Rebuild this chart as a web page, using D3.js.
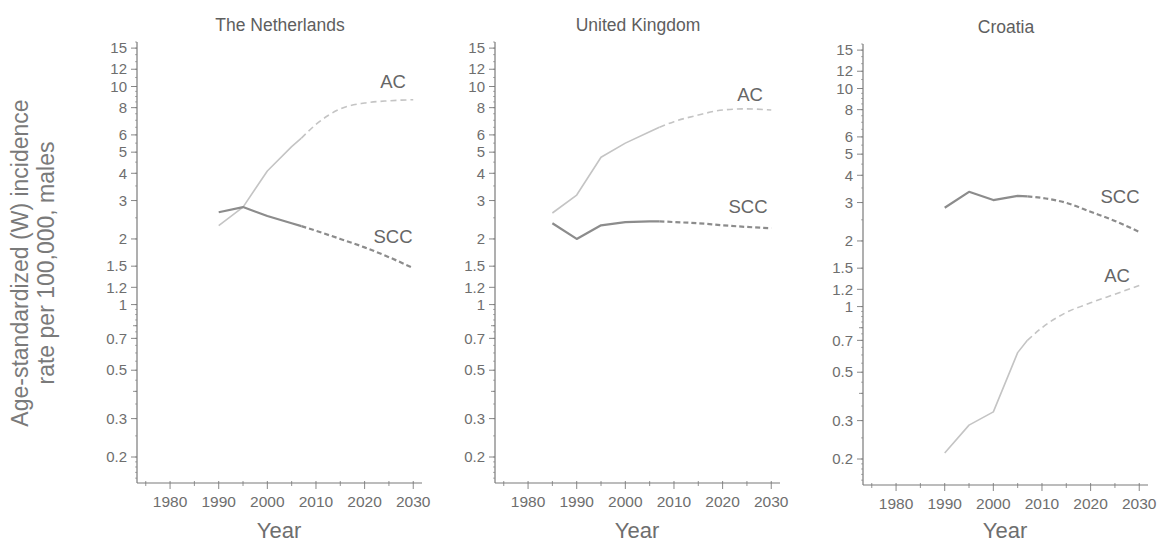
<!DOCTYPE html>
<html><head><meta charset="utf-8">
<script src="https://cdn.jsdelivr.net/npm/d3@7"></script>
<style>
body{margin:0;background:#fff;}
text{font-family:"Liberation Sans",Arial,sans-serif;}
</style></head>
<body><svg id="c" width="1162" height="544"></svg>
<script>
// ---- data ----
const countries = ["The Netherlands", "United Kingdom", "Croatia"];
const lastObservedYear = 2007;

const nlYears = [1990, 1995, 2000, 2005, 2007, 2010, 2015, 2020, 2025, 2030];
const nlAC    = [2.3, 2.8, 4.1, 5.3, 5.8, 6.7, 7.9, 8.4, 8.6, 8.7];
const nlSCC   = [2.65, 2.8, 2.55, 2.36, 2.29, 2.18, 2.0, 1.83, 1.65, 1.47];

const ukYears = [1985, 1990, 1995, 2000, 2005, 2007, 2010, 2015, 2020, 2025, 2030];
const ukAC    = [2.63, 3.18, 4.74, 5.5, 6.2, 6.5, 6.9, 7.4, 7.8, 7.9, 7.8];
const ukSCC   = [2.36, 2.0, 2.31, 2.39, 2.41, 2.41, 2.39, 2.36, 2.31, 2.27, 2.24];

const hrYears = [1990, 1995, 2000, 2005, 2007, 2010, 2015, 2020, 2025, 2030];
const hrAC    = [0.213, 0.286, 0.329, 0.615, 0.7, 0.8, 0.94, 1.04, 1.14, 1.25];
const hrSCC   = [2.84, 3.36, 3.08, 3.22, 3.2, 3.15, 2.99, 2.72, 2.47, 2.2];

const xTickLabels = [1980, 1990, 2000, 2010, 2020, 2030];
const xMinorTicks = [1975, 1985, 1995, 2005, 2015, 2025];
const yTickLabels = [0.2, 0.3, 0.5, 0.7, 1, 1.2, 1.5, 2, 3, 4, 5, 6, 8, 10, 12, 15];
const yMidTicks   = [0.4, 0.8];
const seriesNames = ["AC", "SCC"];

// ---- layout ----
const panels = [
  {name: countries[0], years: nlYears, AC: nlAC, SCC: nlSCC, left: 137, dy: 0,
   labels: {AC: [393, 82], SCC: [393, 237]}},
  {name: countries[1], years: ukYears, AC: ukAC, SCC: ukSCC, left: 495, dy: 0,
   labels: {AC: [750, 95], SCC: [748, 207]}},
  {name: countries[2], years: hrYears, AC: hrAC, SCC: hrSCC, left: 863, dy: 2,
   labels: {AC: [1117, 276], SCC: [1120, 197]}}
];
const W = 285;
const textCol = "#6e6e6e";
const axisCol = "#7a7a7a";
const style = {
  AC:  {color: "#c4c4c4", width: 1.6, dash: "6,4"},
  SCC: {color: "#8c8c8c", width: 2.2, dash: "5,3"}
};

const svg = d3.select("#c");

// minor y ticks (fine)
const fine = [];
for (let v = 0.16; v < 0.2; v += 0.01) fine.push(+v.toFixed(2));
for (let v = 0.2; v < 1; v += 0.05) fine.push(+v.toFixed(2));
for (let v = 1; v < 10; v += 0.5) fine.push(+v.toFixed(1));
for (let v = 10; v <= 16; v += 1) fine.push(v);

panels.forEach(p => {
  const g = svg.append("g");
  const x = d3.scaleLinear().domain([1973.2, 2031.8]).range([p.left, p.left + W]);
  const y = d3.scaleLog().domain([0.152, 16]).range([483 + p.dy, 42 + p.dy]);
  const y0 = y.range()[0], y1 = y.range()[1];

  // y axis
  g.append("line").attr("x1", p.left).attr("x2", p.left).attr("y1", y1).attr("y2", y0)
    .attr("stroke", axisCol).attr("stroke-width", 1.2);
  g.selectAll(".yf").data(fine).join("line")
    .attr("x1", p.left - 2).attr("x2", p.left).attr("y1", d => y(d)).attr("y2", d => y(d))
    .attr("stroke", axisCol).attr("stroke-width", 0.6);
  g.selectAll(".ym").data(yMidTicks).join("line")
    .attr("x1", p.left - 4).attr("x2", p.left).attr("y1", d => y(d)).attr("y2", d => y(d))
    .attr("stroke", axisCol).attr("stroke-width", 0.8);
  g.selectAll(".yt").data(yTickLabels).join("line")
    .attr("x1", p.left - 6).attr("x2", p.left).attr("y1", d => y(d)).attr("y2", d => y(d))
    .attr("stroke", axisCol).attr("stroke-width", 0.9);
  g.selectAll(".yl").data(yTickLabels).join("text")
    .attr("x", p.left - 10).attr("y", d => y(d)).attr("dy", "0.35em")
    .attr("text-anchor", "end").attr("font-size", 15).attr("fill", textCol)
    .text(d => d);

  // x axis
  g.append("line").attr("x1", p.left).attr("x2", p.left + W).attr("y1", y0).attr("y2", y0)
    .attr("stroke", axisCol).attr("stroke-width", 1.2);
  g.selectAll(".xm").data(xMinorTicks).join("line")
    .attr("x1", d => x(d)).attr("x2", d => x(d)).attr("y1", y0 - 2).attr("y2", y0 + 3)
    .attr("stroke", axisCol).attr("stroke-width", 0.8);
  g.selectAll(".xt").data(xTickLabels).join("line")
    .attr("x1", d => x(d)).attr("x2", d => x(d)).attr("y1", y0 - 2).attr("y2", y0 + 6)
    .attr("stroke", axisCol).attr("stroke-width", 0.9);
  g.selectAll(".xl").data(xTickLabels).join("text")
    .attr("x", d => x(d)).attr("y", y0 + 24)
    .attr("text-anchor", "middle").attr("font-size", 15.5).attr("fill", textCol)
    .text(d => d);
  g.append("text").attr("x", p.left + 142).attr("y", 538)
    .attr("text-anchor", "middle").attr("font-size", 22).attr("fill", textCol).text("Year");

  // title
  g.append("text").attr("x", p.left + 143).attr("y", 31 + p.dy)
    .attr("text-anchor", "middle").attr("font-size", 17.5).attr("fill", "#5e5e5e").text(p.name);

  // series
  const lineObs = d3.line().x(d => x(d[0])).y(d => y(d[1]));
  const lineProj = d3.line().x(d => x(d[0])).y(d => y(d[1])).curve(d3.curveMonotoneX);
  ["AC", "SCC"].forEach(s => {
    const pts = p.years.map((yr, i) => [yr, p[s][i]]);
    const obs = pts.filter(d => d[0] <= lastObservedYear);
    const proj = pts.filter(d => d[0] >= lastObservedYear);
    g.append("path").attr("d", lineObs(obs)).attr("fill", "none")
      .attr("stroke", style[s].color).attr("stroke-width", style[s].width)
      .attr("stroke-linejoin", "round");
    g.append("path").attr("d", lineProj(proj)).attr("fill", "none")
      .attr("stroke", style[s].color).attr("stroke-width", style[s].width)
      .attr("stroke-dasharray", style[s].dash);
    g.append("text").attr("x", p.labels[s][0]).attr("y", p.labels[s][1]).attr("dy", "0.35em")
      .attr("text-anchor", "middle").attr("font-size", 18.5).attr("fill", "#666").text(s);
  });
});

// y title
const yt = svg.append("text").attr("transform", "translate(0,263) rotate(-90)")
  .attr("text-anchor", "middle").attr("font-size", 23).attr("fill", "#7a7a7a");
yt.append("tspan").attr("x", 0).attr("y", 28).text("Age-standardized (W) incidence");
yt.append("tspan").attr("x", 0).attr("y", 54).text("rate per 100,000, males");
</script></body></html>
